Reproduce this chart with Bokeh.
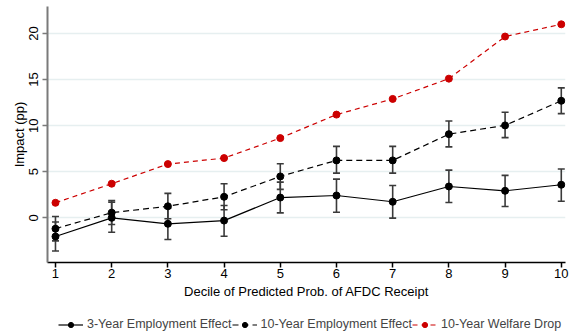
from bokeh.plotting import figure
from bokeh.layouts import column
from bokeh.models import ColumnDataSource, Whisker, TeeHead, Legend, LegendItem, Range1d, FixedTicker
from bokeh.embed import file_html
from bokeh.resources import INLINE

deciles = [1, 2, 3, 4, 5, 6, 7, 8, 9, 10]
emp3 = [-2.03, 0.0, -0.65, -0.3, 2.2, 2.42, 1.74, 3.4, 2.93, 3.59]
emp3_lo = [-3.6, -1.56, -2.36, -2.0, 0.54, 0.6, -0.04, 1.66, 1.23, 1.8]
emp3_hi = [-0.45, 1.7, 1.05, 1.34, 3.87, 4.2, 3.5, 5.17, 4.6, 5.3]
emp10 = [-1.18, 0.56, 1.25, 2.28, 4.49, 6.23, 6.23, 9.08, 10.03, 12.7]
emp10_lo = [-2.5, -0.73, -0.1, 0.87, 3.08, 4.85, 4.85, 7.7, 8.7, 11.3]
emp10_hi = [0.14, 1.88, 2.65, 3.7, 5.87, 7.75, 7.75, 10.5, 11.45, 14.1]
welfare10 = [1.63, 3.7, 5.83, 6.48, 8.65, 11.2, 12.9, 15.1, 19.67, 21.0]
y_ticks = [0, 5, 10, 15, 20]
labels = ["3-Year Employment Effect", "10-Year Employment Effect", "10-Year Welfare Drop"]

FONT = "Liberation Sans"
RED = "#cc0000"

p = figure(frame_width=518, frame_height=256, output_backend="svg", toolbar_location=None,
           x_range=Range1d(0.858, 10.075), y_range=Range1d(-4.85, 22.93),
           min_border_top=6, min_border_right=8, min_border_left=47, min_border_bottom=0)
p.outline_line_color = None
p.background_fill_color = "white"

s3 = ColumnDataSource(dict(x=deciles, y=emp3, lo=emp3_lo, hi=emp3_hi))
s10 = ColumnDataSource(dict(x=deciles, y=emp10, lo=emp10_lo, hi=emp10_hi))
sw = ColumnDataSource(dict(x=deciles, y=welfare10))

ec = "#3a3a3a"
for src in (s3, s10):
    w = Whisker(source=src, base="x", lower="lo", upper="hi", line_color=ec, line_width=1.6,
                upper_head=TeeHead(size=7, line_color=ec, line_width=1.6),
                lower_head=TeeHead(size=7, line_color=ec, line_width=1.6))
    p.add_layout(w)

styles = [dict(line_color="black", line_dash="solid", color="black"),
          dict(line_color="black", line_dash="6 4", color="black"),
          dict(line_color=RED, line_dash="5 4", color=RED)]
series = [s3, s10, sw]
for src, st in zip(series, styles):
    p.line("x", "y", source=src, line_color=st["line_color"], line_width=1.2, line_dash=st["line_dash"])
    p.scatter("x", "y", source=src, size=7, color=st["color"])

p.xgrid.visible = False
p.ygrid.ticker = FixedTicker(ticks=y_ticks)
p.ygrid.grid_line_color = "#e6eff0"
p.ygrid.grid_line_width = 1.5

p.xaxis.ticker = FixedTicker(ticks=deciles)
p.yaxis.ticker = FixedTicker(ticks=y_ticks)
p.xaxis.axis_label = "Decile of Predicted Prob. of AFDC Receipt"
p.yaxis.axis_label = "Impact (pp)"
for ax in (p.xaxis[0], p.yaxis[0]):
    ax.major_label_text_font = FONT
    ax.major_label_text_font_size = "13px"
    ax.major_label_text_color = "black"
    ax.axis_label_text_font = FONT
    ax.axis_label_text_font_size = "13px"
    ax.axis_label_text_font_style = "normal"
    ax.axis_label_text_color = "black"
    ax.minor_tick_line_color = None
    ax.major_tick_in = 0
    ax.major_tick_out = 5
p.xaxis.major_label_standoff = 1
p.xaxis.axis_label_standoff = 3
p.yaxis.major_label_standoff = 4
p.yaxis.axis_label_standoff = 0
p.xaxis.axis_line_color = "black"
p.xaxis.axis_line_width = 1.5
p.xaxis.major_tick_line_color = "black"
p.xaxis.major_tick_line_width = 1.5
p.yaxis.axis_line_color = "#7a7a7a"
p.yaxis.axis_line_width = 2
p.yaxis.major_tick_line_color = "#7a7a7a"
p.yaxis.major_tick_line_width = 1.5
p.yaxis.major_label_orientation = "vertical"

# legend strip below the plot
lf = figure(frame_width=526, height=33, output_backend="svg", toolbar_location=None,
            x_range=Range1d(0, 1), y_range=Range1d(0, 1),
            x_axis_location=None, y_axis_location=None,
            min_border_top=0, min_border_right=0, min_border_left=47, min_border_bottom=0)
lf.grid.visible = False
lf.outline_line_color = None
items = []
for lab, st in zip(labels, styles):
    rl = lf.line([-5, -4], [-5, -5], line_color=st["line_color"], line_width=1.2, line_dash=st["line_dash"])
    rs = lf.scatter([-5], [-5], size=7, color=st["color"])
    items.append(LegendItem(label=lab, renderers=[rl, rs]))
legend = Legend(items=items, orientation="horizontal", location=(11, 3),
                label_text_font=FONT, label_text_font_size="12.5px",
                glyph_width=25, glyph_height=13, label_standoff=4, spacing=0,
                padding=0, margin=0, border_line_color=None, background_fill_alpha=0)
lf.add_layout(legend)

open("out.html", "w").write(file_html(column(p, lf, spacing=0), INLINE))
